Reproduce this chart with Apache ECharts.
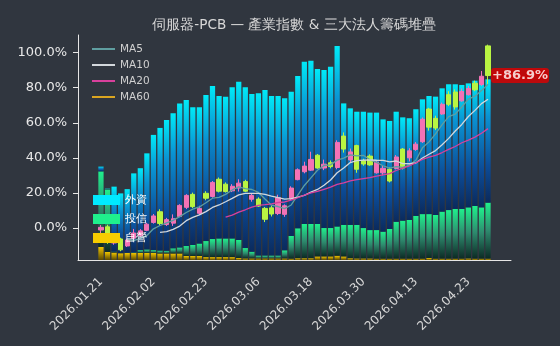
<!DOCTYPE html>
<html>
<head>
<meta charset="utf-8">
<script src="https://cdn.jsdelivr.net/npm/echarts@6/dist/echarts.min.js"></script>
<style>
html,body{margin:0;padding:0;background:#30363f;}
#chart{width:560px;height:346px;}
</style>
</head>
<body>
<div id="chart"></div>
<script>
const dates = [
 '2026.01.21','2026.01.22','2026.01.23','2026.01.26','2026.01.27','2026.01.28','2026.01.29','2026.01.30',
 '2026.02.02','2026.02.03','2026.02.04','2026.02.05','2026.02.06','2026.02.09','2026.02.10','2026.02.11',
 '2026.02.23','2026.02.24','2026.02.25','2026.02.26','2026.03.02','2026.03.03','2026.03.04','2026.03.05',
 '2026.03.06','2026.03.09','2026.03.10','2026.03.11','2026.03.12','2026.03.13','2026.03.16','2026.03.17',
 '2026.03.18','2026.03.19','2026.03.20','2026.03.23','2026.03.24','2026.03.25','2026.03.26','2026.03.27',
 '2026.03.30','2026.03.31','2026.04.01','2026.04.02','2026.04.07','2026.04.08','2026.04.09','2026.04.10',
 '2026.04.13','2026.04.14','2026.04.15','2026.04.16','2026.04.17','2026.04.20','2026.04.21','2026.04.22',
 '2026.04.23','2026.04.24','2026.04.27','2026.04.28'
];

const opens = [
 -1.1, 0.7, -8.5, -6.2, -10.2, -5.8, -4.4, -1.3, 3.2, 9.3,
 2.0, 2.8, 6.6, 11.8, 19.2, 8.4, 19.8, 18.0, 27.8, 25.0,
 21.2, 22.8, 26.5, 16.4, 16.5, 11.2, 11.5, 8.3, 7.8, 16.5,
 27.6, 32.1, 33.0, 41.5, 34.2, 37.2, 34.5, 52.4, 38.8, 47.0,
 38.5, 41.0, 31.5, 31.5, 33.5, 34.0, 45.0, 40.0, 44.8, 49.2,
 67.8, 62.5, 65.0, 76.0, 77.5, 72.5, 76.0, 82.5, 81.8, 103.8
];
const closes = [
 0.4, -7.8, -5.8, -12.4, -6.8, -2.8, -1.6, 2.2, 6.9, 2.6,
 4.8, 5.3, 12.9, 18.6, 12.2, 11.2, 17.0, 26.0, 21.0, 20.8,
 23.8, 25.6, 21.0, 18.6, 12.5, 5.0, 8.0, 17.3, 12.7, 22.8,
 33.2, 35.3, 39.1, 34.2, 36.4, 35.0, 48.8, 45.0, 43.4, 33.5,
 36.5, 36.0, 37.5, 34.0, 26.8, 40.5, 34.2, 44.0, 47.8, 62.0,
 57.5, 57.0, 70.5, 70.5, 69.0, 77.8, 79.5, 78.8, 86.5, 86.9
];
const lows = [
 -3.2, -9.0, -9.5, -13.2, -10.8, -6.8, -5.0, -1.8, 2.5, 1.5,
 1.2, 1.2, 6.2, 10.8, 11.4, 7.4, 15.8, 17.3, 20.3, 20.2,
 20.5, 20.8, 20.5, 15.0, 12.0, 3.4, 6.6, 7.4, 6.4, 16.0,
 27.2, 31.2, 32.5, 33.8, 33.0, 34.0, 33.5, 43.0, 37.5, 31.5,
 35.5, 35.5, 31.0, 30.0, 26.0, 33.4, 33.4, 38.0, 44.0, 48.5,
 55.5, 55.8, 64.5, 69.5, 67.5, 72.0, 75.5, 78.0, 81.0, 81.5
];
const highs = [
 1.7, 1.9, -4.5, -5.5, -6.0, -0.5, -0.6, 3.0, 8.0, 10.7,
 5.8, 7.8, 13.6, 19.3, 20.2, 12.7, 21.0, 26.8, 28.8, 26.0,
 25.0, 27.8, 27.5, 19.8, 17.5, 12.0, 12.8, 19.0, 13.5, 23.8,
 34.0, 37.8, 43.5, 42.2, 39.0, 38.5, 50.0, 54.5, 45.3, 47.5,
 39.5, 42.0, 38.2, 35.5, 34.5, 41.6, 45.6, 45.5, 49.0, 63.0,
 68.5, 64.0, 71.5, 78.0, 79.0, 79.5, 81.0, 84.0, 89.5, 104.5
];

// 三大法人籌碼堆疊 (relative units)
const foreign = [
 2.1, 0.3, 28.9, 26.5, 28.3, 35.2, 36.4, 42.7, 51.2, 54.5,
 58.1, 60.0, 64.0, 64.9, 61.2, 60.6, 64.9, 68.0, 63.3, 63.0,
 67.2, 70.3, 71.5, 70.1, 72.1, 73.6, 70.9, 70.9, 67.6, 64.1,
 67.7, 72.1, 72.6, 68.9, 70.2, 71.7, 80.2, 54.0, 51.8, 50.3,
 51.7, 52.2, 52.2, 49.9, 48.0, 48.9, 45.9, 45.2, 47.4, 51.0,
 52.5, 52.6, 54.8, 55.9, 55.4, 55.1, 55.1, 55.7, 56.6, 54.8
];
const trust = [
 33.6, 27.8, 0.4, 0.1, 0.1, 0.2, 1.3, 1.6, 1.3, 1.3,
 1.2, 2.3, 2.7, 4.4, 4.9, 5.5, 7.1, 8.0, 8.3, 8.3,
 8.3, 8.0, 4.6, 3.0, 1.3, 1.3, 1.3, 1.3, 3.6, 10.1,
 13.3, 15.2, 15.2, 14.4, 12.6, 12.6, 13.0, 14.0, 14.8, 14.9,
 13.5, 12.6, 12.7, 12.0, 13.2, 16.4, 16.9, 17.2, 19.0, 19.8,
 19.5, 19.4, 20.9, 21.6, 22.1, 22.1, 22.7, 23.4, 22.8, 24.9
];
const dealer = [
 5.8, 3.6, 3.3, 3.0, 3.1, 3.1, 3.1, 3.1, 3.1, 2.9,
 2.9, 2.9, 2.9, 1.8, 1.8, 1.8, 1.3, 1.3, 1.3, 1.3,
 1.3, 0.9, 0.7, 0.7, 0.7, 0.7, 0.7, 0.7, 0.7, 0.6,
 0.8, 0.8, 0.8, 1.6, 1.6, 1.6, 1.9, 1.6, 0.8, 0.7,
 0.7, 0.7, 0.6, 0.6, 0.6, 0.6, 0.6, 0.6, 0.6, 0.6,
 0.9, 0.6, 0.6, 0.6, 0.6, 0.6, 0.7, 0.6, 0.6, 0.6
];

const yTickValues = [0, 20, 40, 60, 80, 100];
const maPeriods = [5, 10, 20, 60];
const maNames = ['MA5', 'MA10', 'MA20', 'MA60'];
const chipNames = ['外資', '投信', '自營'];

const PAD = 3;
const N = dates.length;
function pad(arr) {
  const e = Array(PAD).fill('-');
  return e.concat(arr, e);
}
const cats = [];
for (let i = 0; i < PAD; i++) cats.push('p' + i);
dates.forEach(d => cats.push(d));
for (let i = 0; i < PAD; i++) cats.push('q' + i);

const candleData = pad(dates.map((d, i) => [opens[i], closes[i], lows[i], highs[i]]));

function movingAvg(n) {
  return closes.map((c, i) => {
    if (i < n - 1) return '-';
    let s = 0;
    for (let k = i - n + 1; k <= i; k++) s += closes[k];
    return +(s / n).toFixed(2);
  });
}

const showIdx = (index) => index >= PAD && index < PAD + N && (index - PAD) % 8 === 0;

const G = echarts.graphic.LinearGradient;
const gradCyan = new G(0, 0, 0, 1, [
  {offset: 0, color: '#00eaf8'}, {offset: 0.3, color: '#0a92d2'},
  {offset: 0.7, color: '#0c4c98'}, {offset: 1, color: '#0b2a5c'}]);
const gradGreen = new G(0, 0, 0, 1, [
  {offset: 0, color: '#1ff08c'}, {offset: 0.5, color: '#2e8a6e'}, {offset: 1, color: '#0c2a24'}]);
const gradYellow = new G(0, 0, 0, 1, [
  {offset: 0, color: '#f2c600'}, {offset: 1, color: '#5a4800'}]);

const maColors = ['#5f9ea0', '#d3d8dc', '#d8409c', '#daa520'];
const FONT = 'DejaVu Sans';

const series = [
  {name: chipNames[2], type: 'bar', stack: 'chips', yAxisIndex: 1, data: pad(dealer),
   barCategoryGap: '20%', itemStyle: {color: gradYellow}, silent: true},
  {name: chipNames[1], type: 'bar', stack: 'chips', yAxisIndex: 1, data: pad(trust),
   barCategoryGap: '20%', itemStyle: {color: gradGreen}, silent: true},
  {name: chipNames[0], type: 'bar', stack: 'chips', yAxisIndex: 1, data: pad(foreign),
   barCategoryGap: '20%', itemStyle: {color: gradCyan}, silent: true},
  {name: 'K', type: 'candlestick', data: candleData, barWidth: '72%',
   itemStyle: {color: '#f472b6', color0: '#b9f542', borderColor: '#f472b6', borderColor0: '#b9f542', borderWidth: 1}}
];
maPeriods.forEach((p, k) => {
  series.push({name: maNames[k], type: 'line', data: pad(movingAvg(p)), symbol: 'none', smooth: false,
    lineStyle: {width: 1.3, color: maColors[k]}, itemStyle: {color: maColors[k]}});
});
series.push({
  type: 'scatter', data: [[PAD + N - 1, closes[N - 1]]], symbolSize: 0, silent: true, z: 10,
  label: {show: true, position: 'right', distance: 3,
    formatter: () => (closes[N - 1] >= 0 ? '+' : '') + closes[N - 1].toFixed(1) + '%',
    color: '#fff', fontWeight: 'bold', fontSize: 13, fontFamily: FONT, backgroundColor: '#e00000',
    borderRadius: 3, padding: [1, 1], textBorderColor: '#cc0000', textBorderWidth: 2}
});

const chart = echarts.init(document.getElementById('chart'), null, {renderer: 'canvas'});
chart.setOption({
  backgroundColor: '#30363f',
  animation: false,
  textStyle: {fontFamily: FONT},
  title: {
    text: '伺服器-PCB — 產業指數 & 三大法人籌碼堆疊', left: 289, top: 13, textAlign: 'center',
    textStyle: {color: '#d8d8d8', fontSize: 13.6, fontWeight: 'normal', fontFamily: FONT}
  },
  legend: [
    {data: maNames.map((n, k) => ({name: n, itemStyle: {color: maColors[k]}})),
     icon: 'rect', orient: 'vertical', left: 87, top: 38, itemWidth: 23, itemHeight: 2, itemGap: 4,
     textStyle: {color: '#d0d0d0', fontSize: 10.5, fontFamily: FONT, lineHeight: 12}},
    {data: [
      {name: chipNames[0], itemStyle: {color: '#00eaff'}},
      {name: chipNames[1], itemStyle: {color: '#1ff08c'}},
      {name: chipNames[2], itemStyle: {color: '#f7cc00'}}],
     icon: 'rect', orient: 'vertical', left: 88, top: 189, itemWidth: 27, itemHeight: 10, itemGap: 7,
     textStyle: {color: '#ffffff', fontSize: 11, lineHeight: 12}}
  ],
  grid: {left: 78, right: 49, top: 35, bottom: 86},
  xAxis: {
    type: 'category', data: cats, boundaryGap: true,
    axisLine: {onZero: false, lineStyle: {color: '#e6e6e6'}},
    axisTick: {alignWithLabel: true, interval: showIdx, length: 5, lineStyle: {color: '#e6e6e6'}},
    axisLabel: {interval: showIdx, rotate: 45, color: '#d8d8d8', fontSize: 12, margin: 20, fontFamily: FONT},
    splitLine: {show: false}
  },
  yAxis: [
    {type: 'value', min: -18.2, max: 110, splitNumber: 6,
     axisLine: {show: true, lineStyle: {color: '#e6e6e6'}},
     axisTick: {show: true, length: 5, customValues: yTickValues, lineStyle: {color: '#e6e6e6'}},
     axisLabel: {customValues: yTickValues,
       formatter: v => v.toFixed(1) + '%', color: '#e8e8e8', fontSize: 13, margin: 11, fontFamily: FONT},
     splitLine: {show: false}},
    {type: 'value', min: 0, max: 100, show: false, splitLine: {show: false}}
  ],
  series: series
});
</script>
</body>
</html>
